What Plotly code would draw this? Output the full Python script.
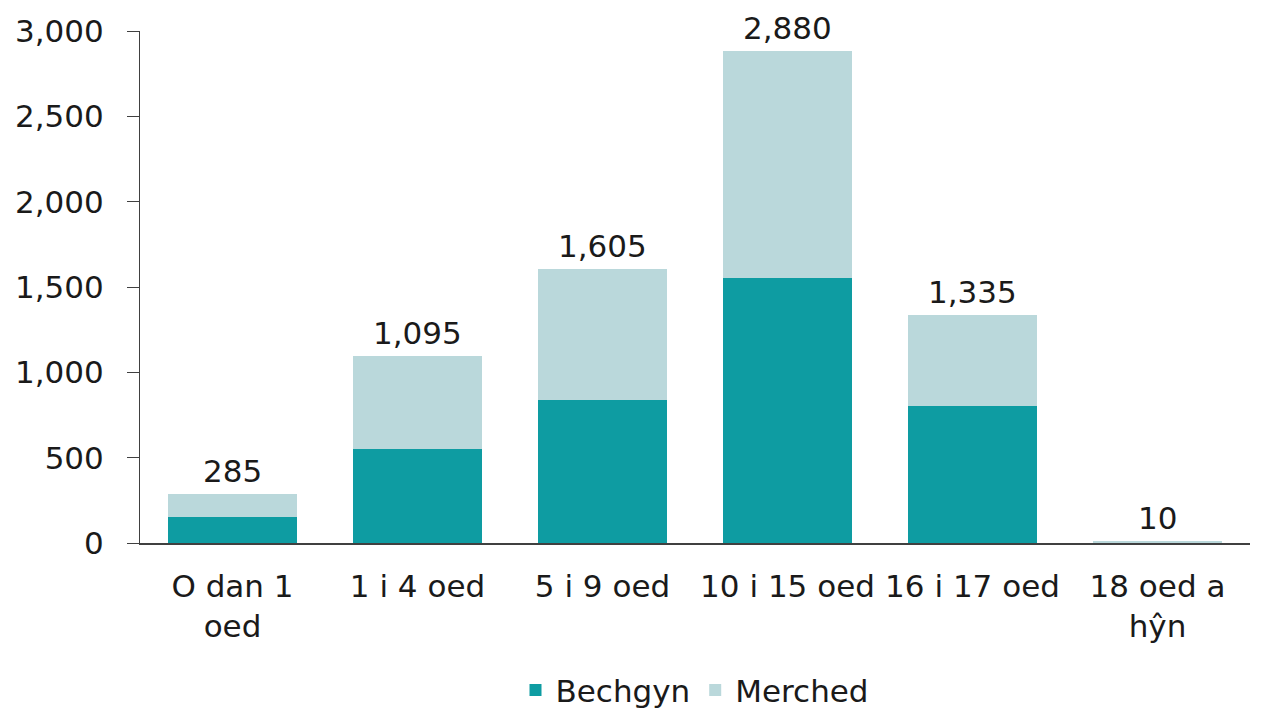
import plotly.graph_objects as go

categories = ["O dan 1<br>oed", "1 i 4 oed", "5 i 9 oed", "10 i 15 oed", "16 i 17 oed", "18 oed a<br>hŷn"]
bechgyn = [155, 550, 840, 1555, 805, 5]
merched = [130, 545, 765, 1325, 530, 5]
totals = [285, 1095, 1605, 2880, 1335, 10]
total_labels = ["285", "1,095", "1,605", "2,880", "1,335", "10"]

FONT = "DejaVu Sans"
FS = 31
C_B = "#0E9CA2"
C_M = "#BAD8DB"
TXT = "#1a1a1a"

fig = go.Figure()
fig.add_trace(go.Bar(x=categories, y=bechgyn, name="Bechgyn", marker=dict(color=C_B, line=dict(width=0))))
fig.add_trace(go.Bar(x=categories, y=merched, name="Merched", marker=dict(color=C_M, line=dict(width=0))))

for c, t, lab in zip(categories, totals, total_labels):
    fig.add_annotation(x=c, y=t, text=lab, showarrow=False, yanchor="bottom", yshift=4,
                       borderpad=0, font=dict(family=FONT, size=FS, color=TXT))

fig.update_layout(
    barmode="stack",
    bargap=0.3,
    width=1253, height=701,
    margin=dict(l=132, r=11, t=23, b=166, autoexpand=False),
    paper_bgcolor="white", plot_bgcolor="white",
    font=dict(family=FONT, size=FS, color=TXT),
    showlegend=True,
    legend=dict(orientation="h", x=0.5, xanchor="center", y=-0.235, yanchor="top",
                font=dict(family=FONT, size=FS, color=TXT), traceorder="normal",
                itemwidth=30),
    xaxis=dict(showline=True, linecolor="#404040", linewidth=1.5, ticks="", showgrid=False,
               automargin=False, ticklabelstandoff=15,
               tickfont=dict(family=FONT, size=FS, color=TXT)),
    yaxis=dict(range=[0, 3000], dtick=500, tickformat=",", showline=True, linecolor="#404040",
               linewidth=1, ticks="outside", ticklen=12, tickcolor="#404040", showgrid=False,
               automargin=False, ticklabelstandoff=17,
               zeroline=False, tickfont=dict(family=FONT, size=FS, color=TXT)),
)

fig.write_html("out.html")
